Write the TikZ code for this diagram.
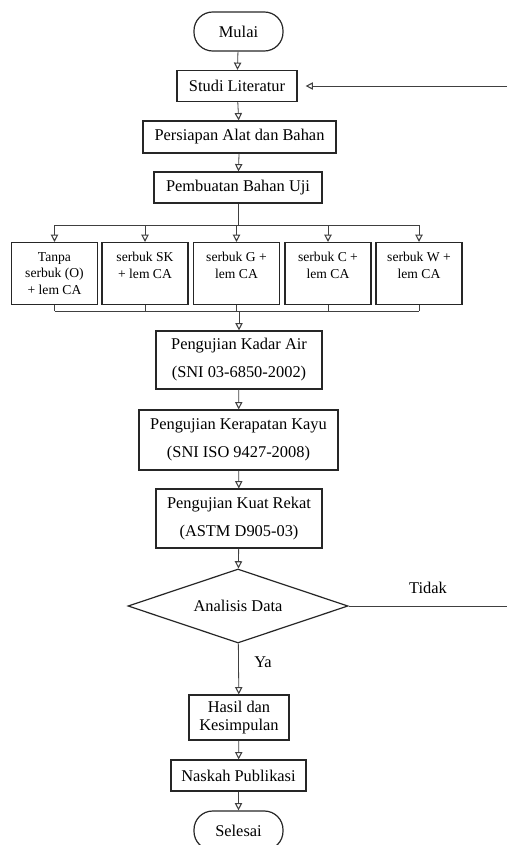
\documentclass[tikz,border=0pt]{standalone}
\usepackage{fontspec}
\setmainfont{Liberation Serif}
\usetikzlibrary{arrows.meta,shapes.geometric}

\tikzset{every picture/.style={line width=0.75pt}}
\tikzset{
  procbox/.style={draw=black!85, line width=0.9pt, align=center, inner sep=0pt, font=\fontsize{12.3}{21}\selectfont},
  termbox/.style={procbox, rounded corners=14pt, minimum width=66.75pt, minimum height=29.25pt},
  smallbox/.style={procbox, font=\fontsize{10.2}{12.4}\selectfont, minimum width=64.5pt, minimum height=46.5pt, anchor=north},
  decbox/.style={procbox, diamond, shape aspect=3, minimum width=165pt, minimum height=55.5pt},
  flow/.style={draw=black!75, line width=0.6pt, -{Triangle[open,length=5.5pt,width=5.5pt,line width=0.8pt]}},
  link/.style={draw=black!75, line width=0.6pt},
  lbl/.style={font=\fontsize{12.3}{15}\selectfont}
}

\begin{document}
\begin{tikzpicture}[x=0.75pt,y=0.75pt,yscale=-1,xscale=1]
\useasboundingbox (0,0) rectangle (507,845);
\clip (0,0) rectangle (507,845);

%Terminal
\node[termbox] (mulai) at (238.5,31.5) {Mulai};
%Process boxes
\node[procbox, minimum width=90pt, minimum height=23.25pt] (studi) at (237,86) {Studi Literatur};
\node[procbox, minimum width=144.75pt, minimum height=24pt] (persiapan) at (239.5,137) {Persiapan Alat dan Bahan};
\node[procbox, minimum width=126pt, minimum height=23.25pt] (pembuatan) at (238,187.5) {Pembuatan Bahan Uji};

%Sample boxes
\node[smallbox] (s1) at (54.5,242) {Tanpa\\serbuk (O)\\+ lem CA};
\node[smallbox] (s2) at (145,242) {serbuk SK\\+ lem CA\\\mbox{}};
\node[smallbox] (s3) at (236.5,242) {serbuk G +\\lem CA\\\mbox{}};
\node[smallbox] (s4) at (328,242) {serbuk C +\\lem CA\\\mbox{}};
\node[smallbox] (s5) at (419,242) {serbuk W +\\lem CA\\\mbox{}};

%Test boxes
\node[procbox, minimum width=124.5pt, minimum height=43.5pt] (kadar) at (239,360) {Pengujian Kadar Air\\(SNI 03-6850-2002)};
\node[procbox, minimum width=149.25pt, minimum height=45pt] (kerapatan) at (238.5,440) {Pengujian Kerapatan Kayu\\(SNI ISO 9427-2008)};
\node[procbox, minimum width=124.5pt, minimum height=44.25pt] (kuat) at (239,518.5) {Pengujian Kuat Rekat\\(ASTM D905-03)};

%Decision
\node[decbox] (analisis) at (238,606) {Analisis Data};

%Result boxes
\node[procbox, font=\fontsize{12.3}{13.5}\selectfont, minimum width=75pt, minimum height=33.75pt] (hasil) at (239,717.5) {Hasil dan\\Kesimpulan};
\node[procbox, minimum width=101.25pt, minimum height=23.25pt] (naskah) at (238.5,775.5) {Naskah Publikasi};
\node[termbox] (selesai) at (238.5,830.5) {Selesai};

%Coordinates for bus lines and edge
\coordinate (bus) at (237,225);
\coordinate (join) at (238,311);
\coordinate (edgeA) at (507,606);
\coordinate (edgeB) at (507,86);

%Straight Lines
\draw[flow] (mulai) -- (studi);
\draw[flow] (studi) -- (persiapan);
\draw[flow] (persiapan) -- (pembuatan);
\draw[link] (pembuatan) -- (pembuatan.south |- bus);
\draw[link] (s1.north |- bus) -- (s5.north |- bus);
\foreach \i in {1,...,5}{
  \draw[flow] (s\i.north |- bus) -- (s\i.north);
  \draw[link] (s\i.south) -- (s\i.south |- join);
}
\draw[link] (s1.south |- join) -- (s5.south |- join);
\draw[flow] (kadar.north |- join) -- (kadar.north);
\draw[flow] (kadar) -- (kerapatan);
\draw[flow] (kerapatan) -- (kuat);
\draw[flow] (kuat) -- (analisis);
\draw[flow] (analisis) -- (hasil);
\draw[flow] (hasil) -- (naskah);
\draw[flow] (naskah) -- (selesai);

%Feedback line
\draw[link] (analisis.east) -- (edgeA);
\draw[flow, shorten >=6pt] (edgeB) -- (studi.east);

% Text Node
\node[lbl] (tidak) at (428,588) {Tidak};
\node[lbl] (ya) at (263,662) {Ya};

\end{tikzpicture}
\end{document}
